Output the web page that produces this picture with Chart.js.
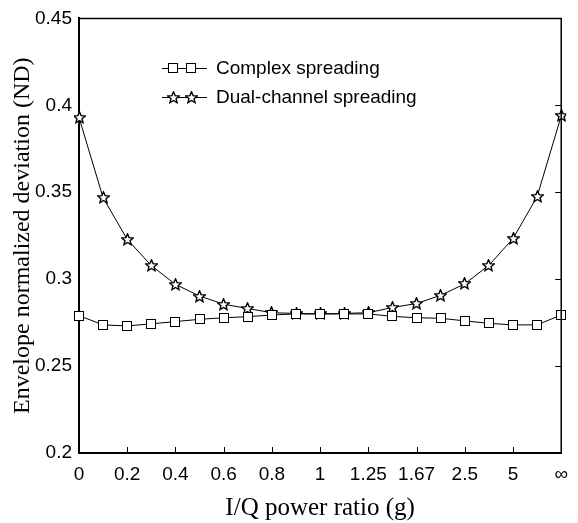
<!DOCTYPE html>
<html>
<head>
<meta charset="utf-8">
<script src="https://cdn.jsdelivr.net/npm/chart.js@4/dist/chart.umd.min.js"></script>
<style>
  html, body { margin: 0; padding: 0; background: #fff; }
  #wrap { width: 578px; height: 523px; position: relative; }
</style>
</head>
<body>
<div id="wrap"><canvas id="ndChart"></canvas></div>
<script>
// I/Q power ratio g (symmetric around 1: g and 1/g)
const ratios = ['0', '0.1', '0.2', '0.3', '0.4', '0.5', '0.6', '0.7', '0.8', '0.9', '1',
  '1.11', '1.25', '1.43', '1.67', '2', '2.5', '3.33', '5', '10', '∞'];
// labels shown under the axis
const shownTicks = ['0', '0.2', '0.4', '0.6', '0.8', '1', '1.25', '1.67', '2.5', '5', '∞'];

const complexND = [0.279, 0.2737, 0.2731, 0.2743, 0.2756, 0.2769, 0.2778, 0.2784, 0.2794, 0.280, 0.280,
  0.280, 0.280, 0.2786, 0.2778, 0.2775, 0.2760, 0.2746, 0.2737, 0.2737, 0.2794];
const dualND = [0.393, 0.3468, 0.3229, 0.3078, 0.297, 0.2903, 0.2856, 0.2831, 0.2807, 0.2803, 0.280,
  0.2803, 0.2807, 0.2837, 0.2860, 0.2907, 0.2973, 0.308, 0.3233, 0.3475, 0.3939];

const yTicks = [0.2, 0.25, 0.3, 0.35, 0.4, 0.45];

function makeSquare() {
  const c = document.createElement('canvas');
  c.width = 10; c.height = 10;
  const g = c.getContext('2d');
  g.fillStyle = '#fff';
  g.fillRect(0, 0, 10, 10);
  g.strokeStyle = '#000';
  g.lineWidth = 1;
  g.strokeRect(0.5, 0.5, 9, 9);
  return c;
}

function makeStar() {
  const c = document.createElement('canvas');
  c.width = 13; c.height = 13;
  const g = c.getContext('2d');
  g.beginPath();
  for (let i = 0; i < 10; i++) {
    const r = i % 2 === 0 ? 6 : 2.7;
    const a = -Math.PI / 2 + i * Math.PI / 5;
    const x = 6.5 + r * Math.cos(a), y = 6.8 + r * Math.sin(a);
    if (i === 0) g.moveTo(x, y); else g.lineTo(x, y);
  }
  g.closePath();
  g.fillStyle = '#fff';
  g.fill();
  g.strokeStyle = '#000';
  g.lineWidth = 1.4;
  g.stroke();
  return c;
}

const squareImg = makeSquare();
const starImg = makeStar();

// keep the marker images crisp
const crispMarkers = {
  id: 'crispMarkers',
  beforeDatasetsDraw(chart) { chart.ctx.imageSmoothingEnabled = false; }
};

// frame, inward ticks and the boxed-in legend
const frameAndLegend = {
  id: 'frameAndLegend',
  afterDraw(chart) {
    const { ctx, chartArea: a, scales } = chart;
    ctx.save();
    ctx.imageSmoothingEnabled = false;
    ctx.strokeStyle = '#000';
    ctx.lineWidth = 1.5;
    ctx.beginPath();
    ctx.moveTo(a.left, a.top); ctx.lineTo(a.right, a.top); ctx.lineTo(a.right, a.bottom);
    ctx.stroke();

    ctx.lineWidth = 1;
    ctx.beginPath();
    ratios.forEach((r, i) => {
      if (i % 2 !== 0 || i === 0 || i === ratios.length - 1) return;
      const x = Math.round(scales.x.getPixelForValue(i)) + 0.5;
      ctx.moveTo(x, a.bottom); ctx.lineTo(x, a.bottom - 6);
    });
    yTicks.forEach((v) => {
      if (v === yTicks[0] || v === yTicks[yTicks.length - 1]) return;
      const y = Math.round(scales.y.getPixelForValue(v)) + 0.5;
      ctx.moveTo(a.right, y); ctx.lineTo(a.right - 6, y);
    });
    ctx.stroke();

    // legend
    const rows = [
      { label: chart.data.datasets[0].label, img: squareImg, y: 68 },
      { label: chart.data.datasets[1].label, img: starImg, y: 97 }
    ];
    ctx.font = '19px "Liberation Sans", Arial, sans-serif';
    ctx.textBaseline = 'middle';
    ctx.fillStyle = '#000';
    rows.forEach((row) => {
      ctx.beginPath();
      ctx.moveTo(162, row.y + 0.5); ctx.lineTo(207, row.y + 0.5);
      ctx.stroke();
      [173, 191].forEach((mx) => {
        ctx.drawImage(row.img, Math.round(mx - row.img.width / 2), Math.round(row.y - row.img.height / 2));
      });
      ctx.fillText(row.label, 216, row.y + 1);
    });
    ctx.restore();
  }
};

new Chart(document.getElementById('ndChart'), {
  type: 'line',
  data: {
    labels: ratios,
    datasets: [
      {
        label: 'Complex spreading',
        data: complexND,
        borderColor: '#000',
        borderWidth: 1,
        pointStyle: squareImg,
        tension: 0
      },
      {
        label: 'Dual-channel spreading',
        data: dualND,
        borderColor: '#000',
        borderWidth: 1,
        pointStyle: starImg,
        tension: 0
      }
    ]
  },
  plugins: [crispMarkers, frameAndLegend],
  options: {
    responsive: true,
    maintainAspectRatio: false,
    animation: false,
    events: [],
    layout: { padding: { top: 13, right: 13, left: 0, bottom: 0 } },
    plugins: {
      legend: { display: false },
      tooltip: { enabled: false }
    },
    scales: {
      x: {
        type: 'category',
        offset: false,
        grid: { display: false, drawTicks: false },
        border: { display: true, color: '#000', width: 2 },
        afterFit(scale) { scale.height = 70; },
        ticks: {
          autoSkip: false,
          maxRotation: 0,
          padding: 10,
          color: '#000',
          font: { family: '"Liberation Sans", Arial, sans-serif', size: 19 },
          callback(value, index) {
            return index % 2 === 0 ? shownTicks[index / 2] : '';
          }
        },
        title: {
          display: true,
          text: 'I/Q power ratio (g)',
          color: '#000',
          padding: { top: 0, bottom: 0 },
          font: { family: '"Liberation Serif", "Times New Roman", serif', size: 25 }
        }
      },
      y: {
        min: 0.2,
        max: 0.45,
        grid: { display: false, drawTicks: false },
        border: { display: true, color: '#000', width: 2 },
        afterFit(scale) { scale.width = 79; },
        afterBuildTicks(scale) { scale.ticks = yTicks.map((v) => ({ value: v })); },
        ticks: {
          padding: 7,
          color: '#000',
          font: { family: '"Liberation Sans", Arial, sans-serif', size: 19 },
          callback(value) { return String(Math.round(value * 100) / 100); }
        },
        title: {
          display: true,
          text: 'Envelope normalized deviation (ND)',
          color: '#000',
          padding: { top: 8, bottom: 0 },
          font: { family: '"Liberation Serif", "Times New Roman", serif', size: 24 }
        }
      }
    }
  }
});
</script>
</body>
</html>
